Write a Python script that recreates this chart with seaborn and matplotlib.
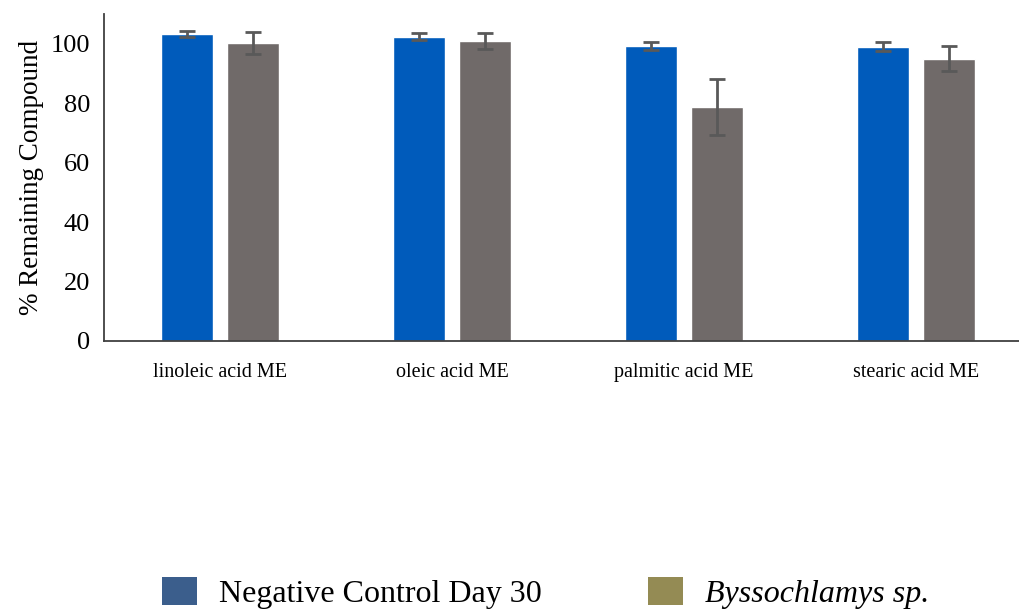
import pandas as pd
import matplotlib.pyplot as plt
import seaborn as sns
from matplotlib.patches import Patch

compounds = ["linoleic acid ME", "oleic acid ME", "palmitic acid ME", "stearic acid ME"]
groups = ["Negative Control Day 30", "Byssochlamys sp."]
control_vals = [103.4, 102.4, 99.3, 99.0]
control_err = [1.0, 1.2, 1.4, 1.5]
bysso_vals = [100.3, 101.0, 78.8, 95.0]
bysso_err = [3.7, 2.7, 9.4, 4.3]

df = pd.DataFrame({
    "compound": compounds * 2,
    "group": [groups[0]] * 4 + [groups[1]] * 4,
    "value": control_vals + bysso_vals,
})
errs = control_err + bysso_err

sns.set_style("white")
plt.rcParams["font.family"] = ["Liberation Serif", "DejaVu Serif"]
plt.rcParams["text.color"] = "black"
plt.rcParams["axes.labelcolor"] = "black"
plt.rcParams["xtick.color"] = "black"
plt.rcParams["ytick.color"] = "black"

fig = plt.figure(figsize=(10.2, 6.12), dpi=100)
ax = fig.add_axes([0.102, 0.443, 0.91, 0.534])

sns.barplot(data=df, x="compound", y="value", hue="group", order=compounds,
            hue_order=groups, palette=["#005bbb", "#706a69"], width=0.569, gap=0.213,
            errorbar=None, legend=False, ax=ax, saturation=1)

# error bars on top of each bar
for p, e in zip(ax.patches, errs):
    xc = p.get_x() + p.get_width() / 2
    ax.errorbar(xc, p.get_height(), yerr=e, fmt="none", ecolor="#595959",
                elinewidth=2, capsize=6, capthick=2)

ax.set_xlim(-0.5, 3.5)
ax.set_ylim(0, 110)
ax.set_yticks([0, 20, 40, 60, 80, 100])
ax.tick_params(axis="y", labelsize=19, length=0, pad=10)
ax.tick_params(axis="x", labelsize=14.5, length=0, pad=16)
ax.set_xlabel("")
ax.set_ylabel("% Remaining Compound", fontsize=19.5, labelpad=5)
sns.despine(ax=ax)
for s in ["left", "bottom"]:
    ax.spines[s].set_color("#404040")
    ax.spines[s].set_linewidth(1.3)

handles = [Patch(facecolor="#3b5e8c", edgecolor="none"),
           Patch(facecolor="#948b54", edgecolor="none")]
leg = fig.legend(handles, groups, loc="lower center", bbox_to_anchor=(0.535, -0.042),
                 ncol=2, frameon=False, fontsize=23, handlelength=1.1, handleheight=1.0,
                 columnspacing=3.3, handletextpad=0.7)
leg.get_texts()[1].set_style("italic")

fig.savefig("out.png", dpi=100)
